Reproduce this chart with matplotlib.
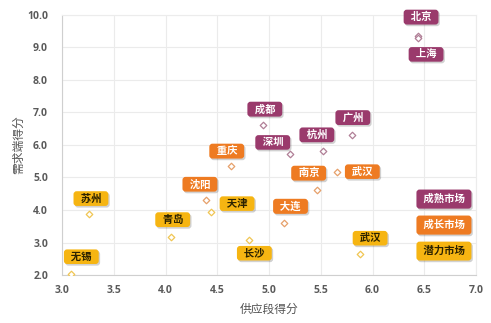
import matplotlib
matplotlib.use("Agg")
import matplotlib.pyplot as plt
import matplotlib.patheffects as pe

plt.rcParams['font.family'] = ['Noto Sans CJK SC', 'DejaVu Sans']

# city scores: supply side (x) vs demand side (y)
cities = ['北京', '上海', '广州', '深圳', '杭州', '成都',
          '武汉', '南京', '重庆', '沈阳', '大连',
          '天津', '苏州', '青岛', '长沙', '武汉', '无锡']
supply = [6.44, 6.44, 5.80, 5.20, 5.52, 4.94,
          5.66, 5.46, 4.63, 4.39, 5.14,
          4.44, 3.26, 4.05, 4.81, 5.88, 3.09]
demand = [9.35, 9.28, 6.32, 5.71, 5.82, 6.61,
          5.18, 4.61, 5.35, 4.30, 3.59,
          3.95, 3.89, 3.18, 3.07, 2.64, 2.04]
group = ['成熟', '成熟', '成熟', '成熟', '成熟', '成熟',
         '成长', '成长', '成长', '成长', '成长',
         '潜力', '潜力', '潜力', '潜力', '潜力', '潜力']
# label offsets from each point, in pixels
label_dx = [3, 8, 1, -17, -6, 2, 25, -8, -4, -6, 7, 26, 2, 2, 5, 10, 10]
label_dy = [19, -16, 17, 12, 16, 16, 0, 17, 15, 16, 17, 8, 15, 17, -13, 16, 17]

groups = ['成熟', '成长', '潜力']
legend_names = ['成熟市场', '成长市场', '潜力市场']
box_colors = {'成熟': '#9a3a6c', '成长': '#ee7b22', '潜力': '#f6b512'}
text_colors = {'成熟': 'white', '成长': 'white', '潜力': '#2b2200'}
edge_colors = {'成熟': '#b07e96', '成长': '#e6a06a', '潜力': '#f0c552'}

fig = plt.figure(figsize=(4.91, 3.23), dpi=100)
ax = fig.add_axes([0.1263, 0.1486, 0.8432, 0.8050])

ax.set_xlim(3.0, 7.0)
ax.set_ylim(2.0, 10.0)
ax.set_xticks([3.0, 3.5, 4.0, 4.5, 5.0, 5.5, 6.0, 6.5, 7.0])
ax.set_yticks([2.0, 3.0, 4.0, 5.0, 6.0, 7.0, 8.0, 9.0, 10.0])
ax.set_xticklabels([f'{v:.1f}' for v in ax.get_xticks()])
ax.set_yticklabels([f'{v:.1f}' for v in ax.get_yticks()])
ax.grid(True, color='#ebebeb', linewidth=0.8)
ax.set_axisbelow(True)
ax.tick_params(length=0, labelsize=7.5, labelcolor='#5a5a5a')
ax.tick_params(axis='y', pad=10)
ax.tick_params(axis='x', pad=7)
for lab in ax.get_xticklabels() + ax.get_yticklabels():
    lab.set_fontfamily(['Open Sans', 'DejaVu Sans'])
    lab.set_fontweight('bold')
for side in ['left', 'bottom']:
    ax.spines[side].set_color('#cfcfcf')
for side in ['top', 'right']:
    ax.spines[side].set_color('#ececec')

ax.set_xlabel('供应段得分', fontsize=8.5, color='#555555', labelpad=5)
ax.set_ylabel('需求端得分', fontsize=8.5, color='#555555')
ax.yaxis.set_label_coords(-0.09, 0.5)

shadow = [pe.withSimplePatchShadow(offset=(1, -1.2), shadow_rgbFace='#000000', alpha=0.18)]

for g in groups:
    xs = [x for x, gg in zip(supply, group) if gg == g]
    ys = [y for y, gg in zip(demand, group) if gg == g]
    ax.scatter(xs, ys, marker='D', s=11, facecolors='white',
               edgecolors=edge_colors[g], linewidths=0.9, zorder=3)

for name, x, y, g, dx, dy in zip(cities, supply, demand, group, label_dx, label_dy):
    t = ax.annotate('  ' + name + '  ', (x, y), xytext=(dx, dy),
                    textcoords='offset pixels', ha='center', va='center',
                    fontsize=7.5, fontweight='bold', color=text_colors[g],
                    bbox=dict(boxstyle='round,pad=0.22,rounding_size=0.3',
                              fc=box_colors[g], ec='none'), zorder=4)
    t.get_bbox_patch().set_path_effects(shadow)

for i, (g, name) in enumerate(zip(groups, legend_names)):
    t = ax.text(0.9225, 0.292 - 0.1 * i, ' ' + name + ' ', transform=ax.transAxes,
                ha='center', va='center', fontsize=7.5, fontweight='bold',
                color=text_colors[g],
                bbox=dict(boxstyle='round,pad=0.42,rounding_size=0.3',
                          fc=box_colors[g], ec='none'), zorder=4)
    t.get_bbox_patch().set_path_effects(shadow)

fig.savefig('out.png', dpi=100)
